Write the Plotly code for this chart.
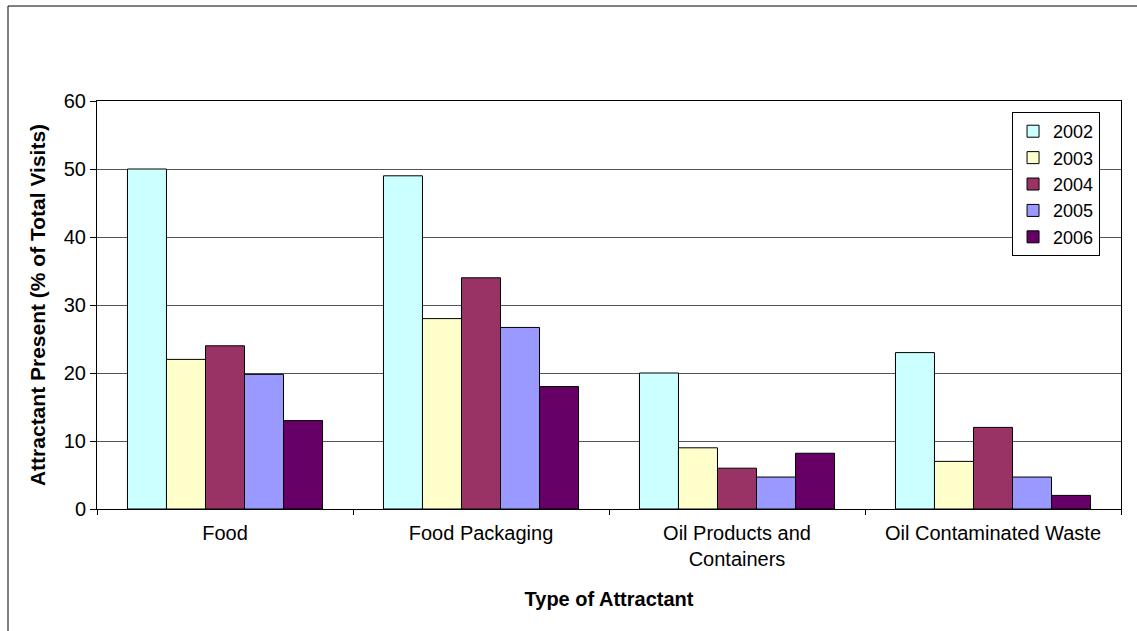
import plotly.graph_objects as go

# Attractant categories (x axis) and yearly shares (% of total visits)
categories = ["Food", "Food Packaging", "Oil Products and<br>Containers", "Oil Contaminated Waste"]
years = ["2002", "2003", "2004", "2005", "2006"]
values_2002 = [50, 49, 20, 23]
values_2003 = [22, 28, 9, 7]
values_2004 = [24, 34, 6, 12]
values_2005 = [19.8, 26.7, 4.7, 4.7]
values_2006 = [13, 18, 8.2, 2]
colors = ["#CCFFFF", "#FFFFCC", "#993366", "#9999FF", "#660066"]
y_ticks = [0, 10, 20, 30, 40, 50, 60]

series = [values_2002, values_2003, values_2004, values_2005, values_2006]

fig = go.Figure()
for year, vals, col in zip(years, series, colors):
    fig.add_trace(go.Bar(
        x=categories, y=vals, name=year,
        marker=dict(color=col, line=dict(color="#000000", width=1)),
    ))

FONT = "Liberation Sans, Arial, sans-serif"

fig.update_layout(
    width=1137, height=631,
    margin=dict(l=97, r=16, t=101, b=122),
    paper_bgcolor="white", plot_bgcolor="white",
    barmode="group", bargap=0.238, bargroupgap=0,
    font=dict(family=FONT, size=19, color="#000000"),
    showlegend=True,
    legend=dict(
        x=0.8936, y=0.973, xanchor="left", yanchor="top",
        bordercolor="#000000", borderwidth=1, bgcolor="white",
        font=dict(family=FONT, size=18), tracegroupgap=0,
    ),
    xaxis=dict(
        type="category", tickson="boundaries",
        ticks="outside", ticklen=5, tickcolor="#000000",
        ticklabelstandoff=6,
        showline=True, linecolor="#000000", linewidth=1, mirror=True,
        showgrid=False,
        tickfont=dict(family=FONT, size=20),
        title=dict(text="<b>Type of Attractant</b>", font=dict(family=FONT, size=20), standoff=22),
    ),
    yaxis=dict(
        range=[0, 60], tickvals=y_ticks,
        ticks="outside", ticklen=6, tickcolor="#000000",
        showline=True, linecolor="#000000", linewidth=1, mirror=True,
        showgrid=True, gridcolor="#555555", gridwidth=1,
        zeroline=False,
        tickfont=dict(family=FONT, size=20),
        title=dict(text="<b>Attractant Present (% of Total Visits)</b>", font=dict(family=FONT, size=21), standoff=12),
    ),
    shapes=[dict(
        type="rect", xref="paper", yref="paper",
        x0=-0.0869, x1=1.2, y0=-0.6, y1=1.2328,
        line=dict(color="#000000", width=1), fillcolor="rgba(0,0,0,0)", layer="below",
    )],
)

fig.write_html("out.html")
